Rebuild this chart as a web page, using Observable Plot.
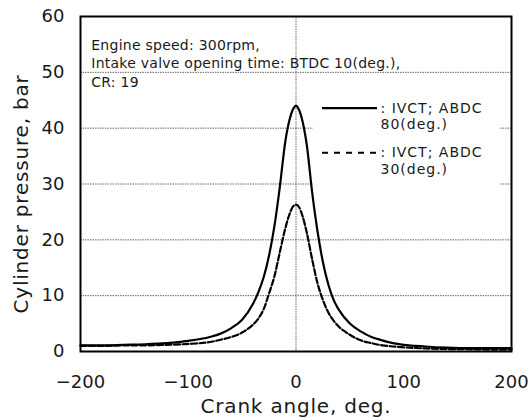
<!DOCTYPE html>
<html>
<head>
<meta charset="utf-8">
<script src="https://cdn.jsdelivr.net/npm/d3@7"></script>
<script src="https://cdn.jsdelivr.net/npm/@observablehq/plot@0.6"></script>
<style>
  html, body { margin: 0; padding: 0; background: white; }
  #chart { width: 530px; height: 419px; }
  .axis-title text { letter-spacing: 0.8px; }
  .legend-text text { letter-spacing: 1px; }
  .annot-text text { letter-spacing: 0.25px; }
</style>
</head>
<body>
<div id="chart"></div>
<script>
// Crank angle (deg.) samples
const angles = [-200,-180,-160,-140,-120,-100,-80,-70,-60,-50,-40,-35,-30,-25,-20,-15,-10,-6,-3,0,3,6,10,15,20,25,30,35,40,50,60,70,80,90,100,120,140,160,180,200];
// Cylinder pressure, IVCT ABDC 80 deg (solid)
const p80 = [1.1,1.1,1.2,1.3,1.5,1.9,2.6,3.2,4.2,5.7,8.5,10.6,13.3,17.2,22.5,29.5,37.5,41.5,43.3,44.0,43.2,41.3,37.0,28.5,21.5,16.0,12.0,9.2,7.4,5.0,3.6,2.6,2.0,1.5,1.2,0.9,0.7,0.6,0.6,0.6];
// Cylinder pressure, IVCT ABDC 30 deg (dashed)
const p30 = [1.0,1.0,1.1,1.1,1.2,1.35,1.7,2.1,2.6,3.4,4.8,5.9,7.6,10.4,13.5,17.8,22.0,24.6,25.9,26.3,25.8,24.3,21.3,16.5,12.2,9.2,7.0,5.5,4.4,3.0,2.0,1.5,1.1,0.9,0.75,0.55,0.45,0.4,0.35,0.35];

const xTicks = [-200,-100,0,100,200];
const yTicks = [0,10,20,30,40,50,60];
const yGrid = [10,20,30,40,50];
const xGrid = [0];

const annotation = [
  "Engine speed: 300rpm,",
  "Intake valve opening time: BTDC 10(deg.),",
  "CR: 19"
];
const legendLines = [": IVCT; ABDC", "80(deg.)", ": IVCT; ABDC", "30(deg.)"];

const xLabel = "Crank angle, deg.";
const yLabel = "Cylinder pressure, bar";

const rows80 = angles.map((a, i) => ({a, p: p80[i]}));
const rows30 = angles.map((a, i) => ({a, p: p30[i]}));

const fmt = d => d < 0 ? "\u2212" + Math.abs(d) : String(d);

const chart = Plot.plot({
  width: 530,
  height: 419,
  marginLeft: 80,
  marginRight: 19,
  marginTop: 16,
  marginBottom: 68,
  style: {fontFamily: "DejaVu Sans, sans-serif", fontSize: "18px", color: "#1a1a1a", background: "white"},
  x: {domain: [-200, 200]},
  y: {domain: [0, 60]},
  marks: [
    Plot.ruleY(yGrid, {stroke: "#666", strokeWidth: 1, strokeDasharray: "1.5,1"}),
    Plot.ruleX(xGrid, {stroke: "#666", strokeWidth: 1, strokeDasharray: "1.5,1"}),
    // white background behind the legend
    Plot.rect([0], {x1: 16, x2: 190, y1: 29, y2: 46.3, fill: "white"}),
    Plot.line(rows80, {x: "a", y: "p", stroke: "black", strokeWidth: 2.2, curve: "monotone-x"}),
    Plot.line(rows30, {x: "a", y: "p", stroke: "black", strokeWidth: 2.2, strokeDasharray: "6,2.5", curve: "monotone-x"}),
    Plot.frame({stroke: "black", strokeWidth: 2}),
    Plot.axisX(xTicks, {tickSize: 0, tickPadding: 24, tickFormat: fmt, label: null, fontSize: 18}),
    Plot.axisY(yTicks, {tickSize: 0, tickPadding: 16, tickFormat: fmt, label: null, fontSize: 18}),
    Plot.text([xLabel], {frameAnchor: "bottom", lineAnchor: "middle", textAnchor: "middle", dy: 55, fontSize: 20, fill: "#1a1a1a", className: "axis-title"}),
    Plot.text([yLabel], {frameAnchor: "left", lineAnchor: "middle", textAnchor: "middle", rotate: -90, dx: -59, dy: 10, fontSize: 20, fill: "#1a1a1a", className: "axis-title"}),
    // annotation text
    Plot.text(annotation, {x: -190, y: (d, i) => 54.8 - i * 3.3, text: d => d, textAnchor: "start", fontSize: 14, fill: "#1a1a1a", className: "annot-text"}),
    // legend
    Plot.ruleY([43.6], {x1: 24.6, x2: 75.6, stroke: "black", strokeWidth: 2.2}),
    Plot.ruleY([35.6], {x1: 24.6, x2: 75.6, stroke: "black", strokeWidth: 2.2, strokeDasharray: "6,6"}),
    Plot.text(legendLines, {x: 78.4, y: (d, i) => [43.6, 40.6, 35.6, 32.6][i], text: d => d, textAnchor: "start", fontSize: 14, fill: "#1a1a1a", className: "legend-text"})
  ]
});
document.getElementById("chart").appendChild(chart);
</script>
</body>
</html>
